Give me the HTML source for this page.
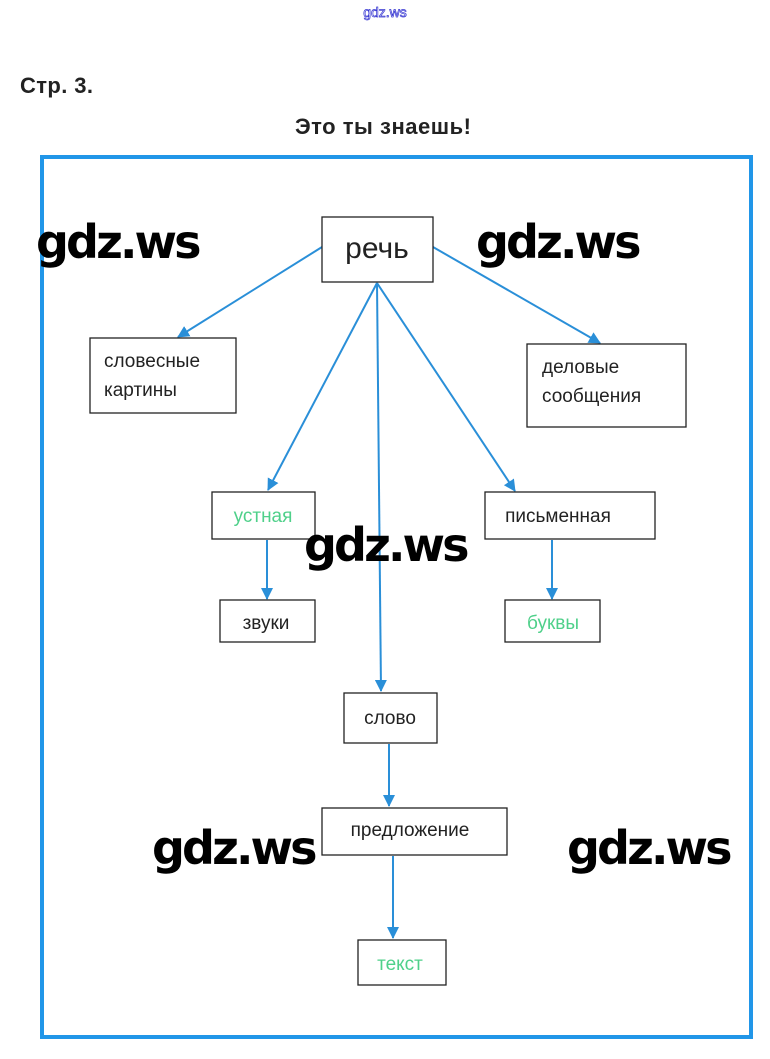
<!DOCTYPE html>
<html><head><meta charset="utf-8"><style>
body{margin:0;background:#fff;}
svg{display:block}
.t{font-family:"Liberation Sans",sans-serif;font-size:19px;fill:#222}
.g{fill:#4fd08a}
.w{font-family:"DejaVu Sans","Liberation Sans",sans-serif;font-size:46px;font-weight:bold;fill:#000;letter-spacing:-2.5px}
</style></head><body>
<svg width="770" height="1059" viewBox="0 0 770 1059" xmlns="http://www.w3.org/2000/svg">
<defs><marker id="a" markerWidth="12" markerHeight="12" refX="11" refY="6" orient="auto" markerUnits="userSpaceOnUse"><path d="M0,0 L12,6 L0,12 z" fill="#2a8fd8"/></marker></defs>
<text x="385" y="17" text-anchor="middle" font-family="Liberation Sans,sans-serif" font-size="14" fill="#fff" stroke="#3030d0" stroke-width="0.7">gdz.ws</text>
<text x="20" y="93" font-family="Liberation Sans,sans-serif" font-size="22" font-weight="bold" fill="#222" textLength="73">Стр. 3.</text>
<text x="295" y="134" font-family="Liberation Sans,sans-serif" font-size="22" font-weight="bold" fill="#222" textLength="176">Это ты знаешь!</text>
<rect x="42" y="157" width="709" height="880" fill="none" stroke="#2196e8" stroke-width="4"/>
<g stroke="#2a8fd8" stroke-width="2" fill="none" marker-end="url(#a)">
<line x1="322" y1="247" x2="178" y2="337"/>
<line x1="433" y1="247" x2="600" y2="343"/>
<line x1="377" y1="283" x2="268" y2="490"/>
<line x1="377" y1="283" x2="381" y2="691"/>
<line x1="377" y1="283" x2="515" y2="491"/>
<line x1="267" y1="540" x2="267" y2="599"/>
<line x1="552" y1="540" x2="552" y2="599"/>
<line x1="389" y1="744" x2="389" y2="806"/>
<line x1="393" y1="856" x2="393" y2="938"/>
</g>
<g fill="#fff" stroke="#222" stroke-width="1.3">
<rect x="322" y="217" width="111" height="65"/>
<rect x="90" y="338" width="146" height="75"/>
<rect x="527" y="344" width="159" height="83"/>
<rect x="212" y="492" width="103" height="47"/>
<rect x="485" y="492" width="170" height="47"/>
<rect x="220" y="600" width="95" height="42"/>
<rect x="505" y="600" width="95" height="42"/>
<rect x="344" y="693" width="93" height="50"/>
<rect x="322" y="808" width="185" height="47"/>
<rect x="358" y="940" width="88" height="45"/>
</g>
<text class="t" x="377" y="258" text-anchor="middle" style="font-size:30px">речь</text>
<text class="t" x="104" y="367">словесные</text>
<text class="t" x="104" y="396">картины</text>
<text class="t" x="542" y="373">деловые</text>
<text class="t" x="542" y="402">сообщения</text>
<text class="t g" x="263" y="522" text-anchor="middle">устная</text>
<text class="t" x="558" y="522" text-anchor="middle">письменная</text>
<text class="t" x="266" y="629" text-anchor="middle">звуки</text>
<text class="t g" x="553" y="629" text-anchor="middle">буквы</text>
<text class="t" x="390" y="724" text-anchor="middle">слово</text>
<text class="t" x="410" y="836" text-anchor="middle">предложение</text>
<text class="t g" x="400" y="970" text-anchor="middle">текст</text>
<text class="w" x="36" y="258" textLength="163">gdz.ws</text>
<text class="w" x="476" y="258" textLength="163">gdz.ws</text>
<text class="w" x="304" y="561" textLength="163">gdz.ws</text>
<text class="w" x="152" y="864" textLength="163">gdz.ws</text>
<text class="w" x="567" y="864" textLength="163">gdz.ws</text>
</svg>
</body></html>
